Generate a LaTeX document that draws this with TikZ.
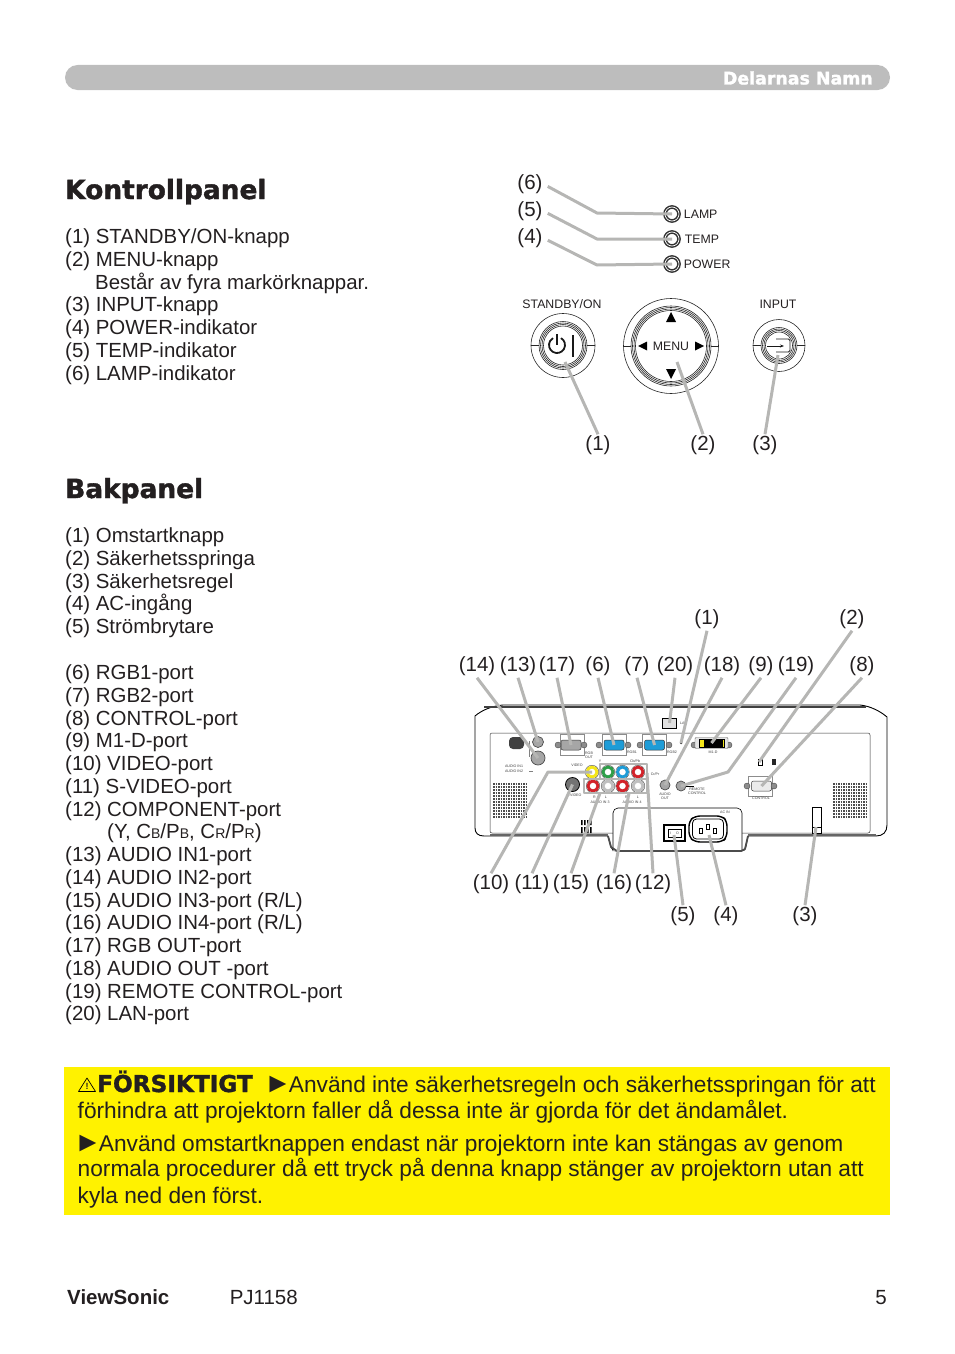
\documentclass[tikz,border=0pt]{standalone}
\usepackage{fontspec}
\usepackage{xcolor}
\setmainfont{Liberation Sans}
\newfontfamily\headfont[BoldFeatures={FakeBold=1.5}]{DejaVu Sans}
\usetikzlibrary{arrows.meta, positioning, calc}
\definecolor{barGray}{HTML}{BDBDBD}
\definecolor{noteYellow}{HTML}{FFF200}
\definecolor{lineGray}{HTML}{B6B6B4}
\definecolor{inkBlack}{HTML}{231F20}
\definecolor{portBlue}{HTML}{1E9CD7}
\definecolor{portRed}{HTML}{D2232A}
\definecolor{portGreen}{HTML}{2E9E48}
\definecolor{portYellow}{HTML}{F5E61A}

\begin{document}
\begin{tikzpicture}[x=1pt, y=-1pt,
    every node/.style={text=inkBlack, inner sep=0pt},
    head/.style={font=\headfont\bfseries\fontsize{26.4}{30}\selectfont, anchor=base west},
    listing/.style={anchor=north west, align=left, font=\fontsize{20.45}{22.75}\selectfont},
    num/.style={font=\fontsize{20.5}{24}\selectfont, inner sep=1.5pt, yshift=-1.5pt},
    note/.style={anchor=base west, font=\fontsize{22.7}{26}\selectfont},
    pnl/.style={font=\fontsize{12.3}{14}\selectfont},
    tinytxt/.style={font=\fontsize{3.6}{4}\selectfont, text=black!75, align=center},
    call/.style={draw=lineGray, line width=3pt, line join=round},
    led/.style={circle, draw=black!80, line width=1.5pt, double=white, double distance=0.7pt, fill=white, minimum size=14pt},
    jack/.style={circle, draw=black!70, fill=black!35, line width=0.7pt, minimum size=11pt},
    rca/.style={circle, draw=#1, fill=white, line width=3pt, minimum size=10pt},
    screw/.style={circle, draw=black!70, fill=black!45, line width=0.4pt, minimum size=6pt},
    dsub/.style={draw=black!80, fill=#1, line width=0.5pt, rounded corners=2pt, minimum width=20pt, minimum height=10pt},
    portbox/.style={draw=black!45, line width=0.5pt, fill=white, minimum width=24pt, minimum height=21pt},
    ring/.style={draw=black!85, line width=0.6pt}]

  \useasboundingbox (0,0) rectangle (954,1354);

  \fill[barGray, rounded corners=12.5pt] (65,65) rectangle (890,90);
  \node[anchor=east, text=white, font=\headfont\bfseries\fontsize{17.4}{18}\selectfont] (title) at (873,78) {Delarnas Namn};

  \node[head] (kontroll) at (65,199) {Kontrollpanel};
  \node[listing] (klist) at (65,228.5) {(1) STANDBY/ON-knapp\\(2) MENU-knapp\\\hspace*{30pt}Består av fyra markörknappar.\\(3) INPUT-knapp\\(4) POWER-indikator\\(5) TEMP-indikator\\(6) LAMP-indikator};

  \node[head] (bak) at (65,498) {Bakpanel};
  \node[listing] (blist) at (65,527.5) {(1) Omstartknapp\\(2) Säkerhetsspringa\\(3) Säkerhetsregel\\(4) AC-ingång\\(5) Strömbrytare};
  \node[listing] (plist) at (65,664.5) {(6) RGB1-port\\(7) RGB2-port\\(8) CONTROL-port\\(9) M1-D-port\\(10) VIDEO-port\\(11) S-VIDEO-port\\(12) COMPONENT-port\\\hspace*{42pt}(Y, C{\fontsize{14}{14}\selectfont B}/P{\fontsize{14}{14}\selectfont B}, C{\fontsize{14}{14}\selectfont R}/P{\fontsize{14}{14}\selectfont R})\\(13) AUDIO IN1-port\\(14) AUDIO IN2-port\\(15) AUDIO IN3-port (R/L)\\(16) AUDIO IN4-port (R/L)\\(17) RGB OUT-port\\(18) AUDIO OUT -port\\(19) REMOTE CONTROL-port\\(20) LAN-port};

  \node[led] (led6) at (672,214) {};
  \node[led] (led5) at (672,239) {};
  \node[led] (led4) at (672,264) {};
  \node[pnl, right=4pt of led6] (lamp) {LAMP};
  \node[pnl, right=5pt of led5] (temp) {TEMP};
  \node[pnl, right=4pt of led4] (power) {POWER};

  \node[pnl] (standby) at (562,304) {STANDBY/ON};
  \node[pnl] (input) at (778,304) {INPUT};
  \node[circle, ring, minimum size=64pt] (btn1) at (563,345.5) {};
  \node[circle, ring, minimum size=95pt] (btn2) at (671,346) {};
  \node[circle, ring, minimum size=52pt] (btn3) at (779,345.5) {};
  \foreach \r in {24,22.5,21,19.5} \draw[ring] (btn1.center) circle (\r);
  \foreach \r in {40,38.5,37,35.5} \draw[ring] (btn2.center) circle (\r);
  \foreach \r in {18,16.5,15,13.5} \draw[ring] (btn3.center) circle (\r);
  \draw[ring] (btn1.west) -- ++(8,0) (btn1.east) -- ++(-8,0);
  \draw[ring] (btn2.west) -- ++(7.5,0) (btn2.east) -- ++(-7.5,0);
  \draw[ring] (btn3.west) -- ++(8,0) (btn3.east) -- ++(-8,0);
  \draw[line width=1.8pt, black!90] (561,338.1) arc[start angle=60, end angle=-240, radius=8pt];
  \draw[line width=1.8pt, black!90] (557,334) -- (557,345);
  \draw[line width=1.8pt, black!90] (573,335) -- (573,357);
  \node[pnl] (menu) at (671,346) {MENU};
  \fill[black] (671,312) -- (676,322) -- (666,322) -- cycle;
  \fill[black] (671,379) -- (676,369) -- (666,369) -- cycle;
  \fill[black] (638,346) -- (647,341.5) -- (647,350.5) -- cycle;
  \fill[black] (704,346) -- (695,341.5) -- (695,350.5) -- cycle;
  \draw[line width=0.8pt, black!90, rounded corners=1.5pt] (776,339) -- (790,339) -- (790,352) -- (776,352);
  \draw[line width=0.8pt, black!90, -{Stealth[length=4pt]}] (767,346) -- (784,346);

  \node[num] (k6) at (530,183) {(6)};
  \node[num] (k5) at (530,210) {(5)};
  \node[num] (k4) at (530,237) {(4)};
  \node[num] (k1) at (598,444) {(1)};
  \node[num] (k2) at (703,444) {(2)};
  \node[num] (k3) at (765,444) {(3)};
  \coordinate (k6a) at (597,213);
  \coordinate (k5a) at (597,239);
  \coordinate (k4a) at (597,265);
  \coordinate (k1a) at (565,362);
  \coordinate (k2a) at (677,362);
  \coordinate (k3a) at (778,355);
  \draw[call, shorten <=4pt] (k6.east) -- (k6a) -- (led6.center);
  \draw[call, shorten <=4pt] (k5.east) -- (k5a) -- (led5.center);
  \draw[call, shorten <=4pt] (k4.east) -- (k4a) -- (led4.center);
  \draw[call] (k1.north) -- (k1a);
  \draw[call] (k2.north) -- (k2a);
  \draw[call] (k3.north) -- (k3a);

  \draw[black, line width=0.9pt, fill=white] (475,716) .. controls (482,710) and (492,706) .. (503,705) -- (860,705) .. controls (870,706) and (880,711) .. (887,717) -- (887,825) .. controls (887,832) and (883,836) .. (876,836) -- (748,836) -- (746,846) .. controls (745,850) and (744,851) .. (741,851) -- (617,851) .. controls (613,851) and (612,849) .. (611,847) -- (608,836) -- (484,836) .. controls (478,836) and (475,833) .. (475,828) -- cycle;
  \draw[black!75, line width=1.4pt] (484,707) -- (866,707);
  \draw[black!80, line width=0.5pt, rounded corners=2pt] (490,833) rectangle (870,733);
  \draw[black!60, line width=2pt] (490,835) -- (608,835) (748,835) -- (876,835);
  \draw[black, line width=0.6pt, fill=white, rounded corners=5pt] (613,851) -- (613,808) -- (742,808) -- (742,851);
  \draw[black!70, line width=1.8pt, line join=round] (608,836) -- (611,847) -- (617,851) -- (741,851) -- (745,849) -- (748,836);

  \foreach \y in {784,787,...,817} {
    \draw[black!70, line width=1.6pt, dash pattern=on 1.6pt off 0.9pt] (493,\y) -- (527,\y);
    \draw[black!70, line width=1.6pt, dash pattern=on 1.6pt off 0.9pt] (833,\y) -- (867,\y);
  }

  \fill[black!75, rounded corners=4pt] (509,737) rectangle (524,749);
  \draw[black!50, line width=0.4pt] (529,741) -- (529,757) (529,771) -- (533,771);
  \node[jack] (jack13) at (538,742) {};
  \node[jack, minimum size=14pt] (jack14) at (538,758) {};
  \node[tinytxt] (ain1) at (514,766) {AUDIO IN1};
  \node[tinytxt] (ain2) at (514,771) {AUDIO IN2};

  \node[portbox] (box17) at (572.5,744.5) {};
  \node[portbox] (box6) at (614,744.5) {};
  \node[portbox] (box7) at (654,744.5) {};
  \node[dsub=black!35] (rgbout) at (571,745) {};
  \node[dsub=portBlue] (rgb1) at (614,745) {};
  \node[dsub=portBlue] (rgb2) at (654.5,745) {};
  \foreach \x in {558,584,599,628,640,669,694,729} \node[screw] at (\x,745) {};
  \node[tinytxt] (lout) at (589,755) {RGB\\OUT};
  \node[tinytxt] (lrgb1) at (632,752) {RGB1};
  \node[tinytxt] (lrgb2) at (672,752) {RGB2};

  \node[draw=black, line width=1pt, fill=black!12, minimum width=14pt, minimum height=10pt] (lan) at (669.5,723) {};
  \node[tinytxt, right=3pt of lan] (llan) {LAN};
  \node[circle, fill=black!80, minimum size=2.5pt] (reset) at (681,743) {};

  \node[draw=black!60, line width=0.4pt, rounded corners=1pt, fill=black!10, minimum width=33pt, minimum height=11pt] (m1dbox) at (711.5,743) {};
  \node[fill=portYellow, draw=black, line width=0.5pt, minimum width=25pt, minimum height=8pt] (m1d) at (711.5,743) {};
  \fill[black] (704,740) rectangle (723,746.5);
  \node[tinytxt] (lm1d) at (713,752.5) {M1-D};

  \fill[black] (758,759) rectangle (763,765.5);
  \fill[white] (759.2,760.5) rectangle (761.8,765);
  \node[fill=black!85, minimum width=4pt, minimum height=6.5pt] (slot) at (773.5,762) {};

  \node[portbox, minimum height=20pt] (box8) at (760.5,786) {};
  \node[dsub=black!8] (control) at (761.5,786) {};
  \foreach \x in {747,774} \node[screw] at (\x,786) {};
  \node[tinytxt] (lctrl) at (761,798.5) {CONTROL};

  \node[jack, minimum size=10pt] (remote) at (681,786) {};
  \draw[black, line width=0.4pt] (remote.east) -- ++(8,0);
  \node[tinytxt] (lrem) at (697,791) {REMOTE\\CONTROL};
  \node[jack, minimum size=10pt] (aout) at (665,785) {};
  \node[tinytxt] (laout) at (665,796.5) {AUDIO\\OUT};

  \node[rca=portYellow] (video) at (592,772) {};
  \node[circle, draw=black, fill=black!55, line width=0.8pt, minimum size=14pt] (svideo) at (572.5,784.5) {};
  \node[rca=portGreen] (ry) at (608,772) {};
  \node[rca=portBlue] (rb) at (622.5,772) {};
  \node[rca=portRed] (rr) at (638,772) {};
  \node[rca=portRed] (r3) at (593,786) {};
  \node[rca=black!25] (l3) at (608,786) {};
  \node[rca=portRed] (r4) at (622.5,786) {};
  \node[rca=black!25] (l4) at (638,786) {};
  \foreach \n in {video,ry,rb,rr,r3,l3,r4,l4} \draw[black!70, line width=0.4pt] (\n.center) circle (6.8);
  \node[tinytxt] (lvideo) at (577,765.5) {VIDEO};
  \node[tinytxt] (lsv) at (574,795) {S-VIDEO};
  \node[tinytxt] (ly) at (600,761) {Y};
  \node[tinytxt] (lcb) at (635,761) {Cb/Pb};
  \node[tinytxt] (lcr) at (655,774) {Cr/Pr};
  \node[tinytxt] (lrl3) at (600,797) {R\hspace{9pt}L};
  \node[tinytxt] (lrl4) at (632,797) {R\hspace{9pt}L};
  \node[tinytxt] (lin3) at (600,802.5) {AUDIO IN 3};
  \node[tinytxt] (lin4) at (632,802.5) {AUDIO IN 4};

  \foreach \x in {581,584,587,590} \fill[black] (\x,820) rectangle ++(1.5,5) (\x,827) rectangle ++(1.5,6);

  \node[draw=black, line width=1.6pt, fill=white, minimum width=21pt, minimum height=16pt] (switch) at (674.5,833) {};
  \draw[black, line width=0.6pt] (668,829) rectangle (681,837);
  \node[tinytxt] (swtxt) at (674.5,833) {I\hspace{5pt}O};

  \draw[black, line width=1.4pt, rounded corners=5pt] (695,816) -- (722,816) -- (727,821) -- (727,837) -- (722,842) -- (695,842) -- (689,837) -- (689,821) -- cycle;
  \node[draw=black, line width=0.8pt, rounded corners=4pt, minimum width=31pt, minimum height=20pt] (acin) at (708,829) {};
  \foreach \x/\y in {701/831,708/827,715/831} \draw[black, line width=0.9pt, fill=white] (\x-1.5,\y-2.5) rectangle (\x+1.5,\y+2.5);
  \node[tinytxt] (lac) at (725,812.5) {AC IN};

  \node[draw=black, line width=0.6pt, fill=white, minimum width=9pt, minimum height=26pt] (bar) at (816.5,820) {};
  \draw[black, line width=0.6pt] (812,827) -- (821,827);

  \draw[call, line width=2.6pt] (600,764) rectangle (647,779);
  \draw[call, line width=2.6pt] (584,779) rectangle (647,793);

  \node[num] (b14) at (477,665) {(14)};
  \node[num] (b13) at (518,665) {(13)};
  \node[num] (b17) at (557,665) {(17)};
  \node[num] (b6) at (598,665) {(6)};
  \node[num] (b7) at (637,665) {(7)};
  \node[num] (b20) at (675,665) {(20)};
  \node[num] (b18) at (722,665) {(18)};
  \node[num] (b9) at (761,665) {(9)};
  \node[num] (b19) at (796,665) {(19)};
  \node[num] (b8) at (862,665) {(8)};
  \node[num] (b1) at (707,618) {(1)};
  \node[num] (b2) at (852,618) {(2)};
  \node[num] (b10) at (491,883) {(10)};
  \node[num] (b11) at (532,883) {(11)};
  \node[num] (b15) at (571,883) {(15)};
  \node[num] (b16) at (614,883) {(16)};
  \node[num] (b12) at (653,883) {(12)};
  \node[num] (b5) at (683,915) {(5)};
  \node[num] (b4) at (726,915) {(4)};
  \node[num] (b3) at (805,915) {(3)};

  \coordinate (b19a) at (728,772);
  \coordinate (b10a) at (548,772);
  \coordinate (b12a) at (647,773);
  \coordinate (b15a) at (600,793);
  \coordinate (b16a) at (629,793);
  \coordinate (b2a) at (759,762);
  \coordinate (b3a) at (816,827);
  \coordinate (b4a) at (709,835);
  \coordinate (b5a) at (674,835);
  \draw[call] (b14.south) -- (jack14.center);
  \draw[call] (b13.south) -- (jack13.center);
  \draw[call] (b17.south) -- (rgbout.center);
  \draw[call] (b6.south) -- (rgb1.center);
  \draw[call] (b7.south) -- (rgb2.center);
  \draw[call] (b20.south) -- (lan.center);
  \draw[call] (b1.south) -- (reset.center);
  \draw[call] (b18.south) -- (aout.center);
  \draw[call] (b9.south) -- (m1d.center);
  \draw[call] (b19.south) -- (b19a) -- (remote.center);
  \draw[call] (b2.south) -- (b2a);
  \draw[call] (b8.south) -- (control.center);
  \draw[call] (b10.north) -- (b10a) -- (video.center);
  \draw[call] (b11.north) -- (svideo.center);
  \draw[call] (b15.north) -- (b15a);
  \draw[call] (b16.north) -- (b16a);
  \draw[call] (b12.north) -- (b12a);
  \draw[call] (b5.north) -- (b5a);
  \draw[call] (b4.north) -- (b4a);
  \draw[call] (b3.north) -- (b3a);

  \fill[noteYellow] (64,1067) rectangle (890,1215);
  \draw[black, line width=0.7pt, line join=round] (78.5,1091.5) -- (87,1078) -- (95.5,1091.5) -- cycle;
  \node[font=\bfseries\fontsize{9}{9}\selectfont] (warn) at (87,1086.5) {!};
  \node[anchor=base west, font=\headfont\bfseries\fontsize{23.2}{26}\selectfont] (caution) at (97,1092) {FÖRSIKTIGT};
  \node[note] (n1) at (264,1092) {{\fontsize{28}{26}\selectfont ►}\hspace*{-3pt}Använd inte säkerhetsregeln och säkerhetsspringan för att};
  \node[note] (n2) at (77.5,1118) {förhindra att projektorn faller då dessa inte är gjorda för det ändamålet.};
  \node[note] (n3) at (74,1151) {{\fontsize{28}{26}\selectfont ►}\hspace*{-3pt}Använd omstartknappen endast när projektorn inte kan stängas av genom};
  \node[note] (n4) at (77.5,1176) {normala procedurer då ett tryck på denna knapp stänger av projektorn utan att};
  \node[note] (n5) at (77.5,1203) {kyla ned den först.};

  \node[anchor=base west, font=\bfseries\fontsize{20.5}{22}\selectfont] (brand) at (67,1304) {ViewSonic};
  \node[font=\fontsize{20.5}{22}\selectfont, right=60pt of brand.base east, anchor=base west] (model) {PJ1158};
  \node[anchor=base east, font=\fontsize{20.5}{22}\selectfont] (page) at (887,1304) {5};
\end{tikzpicture}
\end{document}
